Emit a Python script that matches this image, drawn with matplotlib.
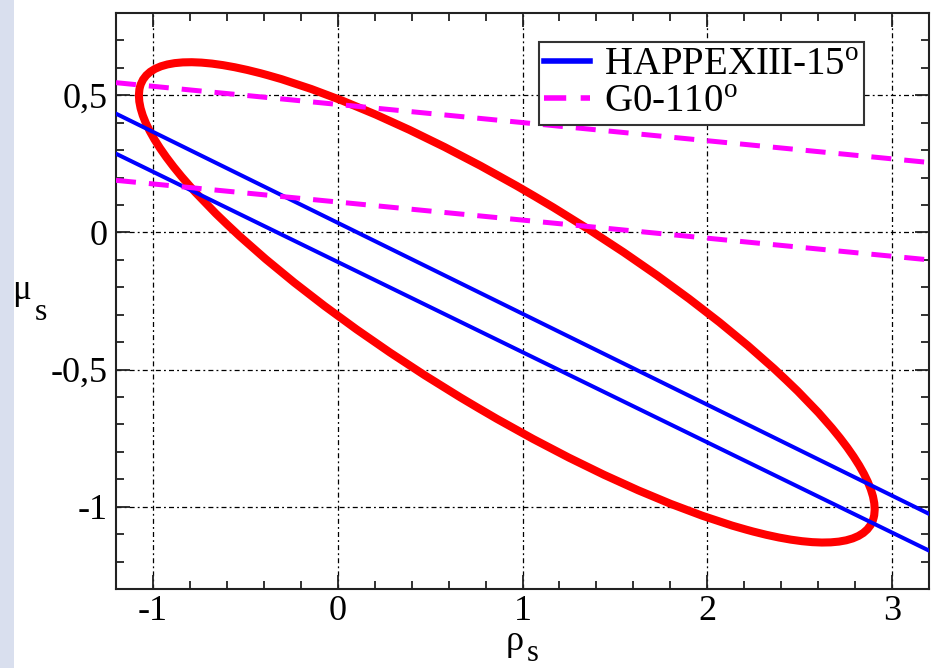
import numpy as np
import matplotlib
matplotlib.use("Agg")
import matplotlib.pyplot as plt
from matplotlib.patches import Ellipse, Rectangle
from matplotlib.ticker import MultipleLocator, FuncFormatter

plt.rcParams['font.family'] = ['Liberation Serif', 'DejaVu Serif']
plt.rcParams['mathtext.fontset'] = 'custom'
plt.rcParams['mathtext.rm'] = 'Liberation Serif'
plt.rcParams['mathtext.it'] = 'Liberation Serif:italic'

# data
line_x = [-1.2, 3.2]
happex_upper = [0.433, -1.026]
happex_lower = [0.287, -1.160]
g0_upper = [0.546, 0.255]
g0_lower = [0.190, -0.100]

# red contour: centre, full width / height, rotation (data units)
ell_center = (0.915, -0.255)
ell_width = 4.27
ell_height = 0.83
ell_angle = -21.6

x_ticks = [-1, 0, 1, 2, 3]
y_ticks = [-1, -0.5, 0, 0.5]

W, H = 934, 668
fig = plt.figure(figsize=(W / 100, H / 100), dpi=100)
fig.patches.append(Rectangle((0, 0), 14 / W, 1, transform=fig.transFigure,
                             facecolor='#d9dfee', edgecolor='none', zorder=0))
ax = fig.add_axes([116 / W, 79 / H, 813 / W, 576 / H])

ell = Ellipse(ell_center, ell_width, ell_height, angle=ell_angle,
              fill=False, edgecolor='red', linewidth=5.8, zorder=3)
ax.add_patch(ell)

ax.plot(line_x, happex_upper, color='blue', lw=2.9, zorder=4,
        label=r'HAPPEXIII-15$^{\rm o}$')
ax.plot(line_x, happex_lower, color='blue', lw=2.9, zorder=4)
ax.plot(line_x, g0_upper, color='magenta', lw=3.6, dashes=(4, 2.6), zorder=4,
        label=r'G0-110$^{\rm o}$')
ax.plot(line_x, g0_lower, color='magenta', lw=3.6, dashes=(4, 2.6), zorder=4)

ax.set_xlim(-1.2, 3.2)
ax.set_ylim(-1.3, 0.8)
ax.set_xticks(x_ticks)
ax.set_yticks(y_ticks)
ax.xaxis.set_minor_locator(MultipleLocator(0.2))
ax.yaxis.set_minor_locator(MultipleLocator(0.1))
fmt = FuncFormatter(lambda v, p: ('%g' % v).replace('.', ','))
ax.xaxis.set_major_formatter(fmt)
ax.yaxis.set_major_formatter(fmt)
ax.tick_params(which='both', direction='in', top=True, right=True,
               labelsize=26, width=1.3, color='#222222')
ax.tick_params(which='major', length=10, pad=6)
ax.tick_params(axis='x', which='major', pad=4)
ax.tick_params(which='minor', length=6)
ax.grid(True, which='major', color='black', lw=0.9,
        linestyle=(0, (4, 2.5, 1.5, 2.5)), zorder=1)
for s in ax.spines.values():
    s.set_linewidth(1.5)
    s.set_color('#222222')

# axis labels: symbol plus a lowered "s" (mathtext keeps the boxes tight)
fig.text(505 / W, 1 - 650 / H, r'$\mathregular{ρ}$', fontsize=26,
         ha='left', va='baseline')
fig.text(526 / W, 1 - 661 / H, r'$\mathregular{s}$', fontsize=22,
         ha='left', va='baseline')
fig.text(12 / W, 1 - 299 / H, r'$\mathregular{μ}$', fontsize=25,
         ha='left', va='baseline')
fig.text(34 / W, 1 - 320 / H, r'$\mathregular{s}$', fontsize=23,
         ha='left', va='baseline')

leg = ax.legend(loc='upper left', bbox_to_anchor=(539 / W, 1 - 42 / H),
                bbox_transform=fig.transFigure, fontsize=28, frameon=True,
                fancybox=False, framealpha=1, edgecolor='#333333',
                handlelength=1.2, handletextpad=0.35, labelspacing=0.0,
                borderpad=0.12, borderaxespad=0)
leg.get_frame().set_linewidth(1.5)
for h in leg.get_lines():
    h.set_linewidth(4)

fig.savefig('out.png', dpi=100)
